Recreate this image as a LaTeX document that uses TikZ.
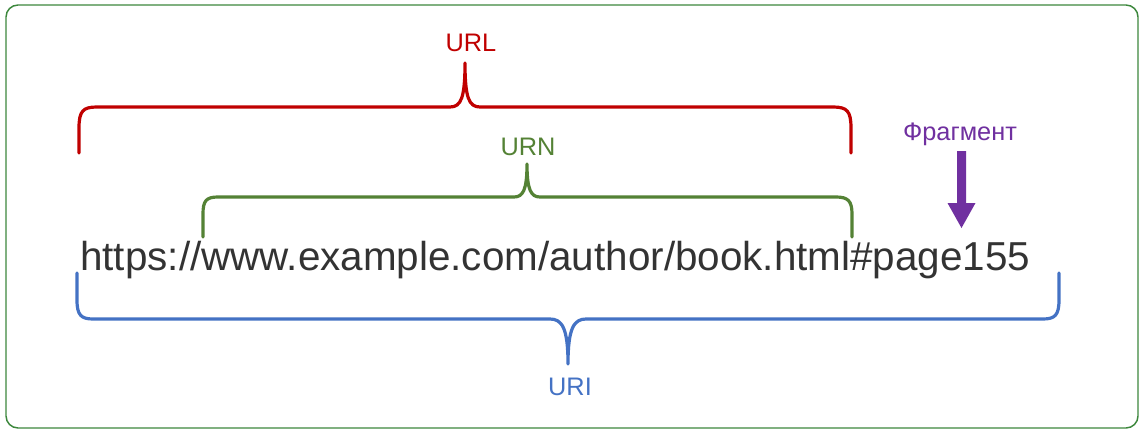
\documentclass[tikz,border=0pt]{standalone}
\usepackage{fontspec}
\setmainfont{Liberation Sans}
\definecolor{cred}{RGB}{192,0,0}
\definecolor{cgreen}{RGB}{84,130,53}
\definecolor{cblue}{RGB}{68,114,196}
\definecolor{cpurple}{RGB}{112,48,160}
\definecolor{cframe}{RGB}{60,135,60}
\definecolor{ctext}{RGB}{51,51,51}
\begin{document}
\begin{tikzpicture}[x=0.75pt,y=-0.75pt,
  bracepath/.style={line width=2.4pt,line cap=round,line join=round},
  lbl/.style={font=\fontsize{19}{21}\selectfont,inner sep=0pt,anchor=base},
  urltext/.style={font=\fontsize{30.3}{34}\selectfont,text=ctext,inner sep=0pt,anchor=base west}]
\useasboundingbox (0,0) rectangle (1143,435);
\draw[cframe,line width=1.1pt,rounded corners=9pt,fill=white] (6,5) rectangle (1138,428);

\node[urltext] (url) at (80,270) {https://www.example.com/author/book.html\#page155};

% red brace (URL)
\draw[cred,bracepath] (79,153) -- (79,128) .. controls (79,111) and (83,107) .. (97,107)
  -- (450,107) .. controls (461,107) and (465,98) .. (465,63)
  .. controls (465,98) and (469,107) .. (480,107)
  -- (833,107) .. controls (847,107) and (851,111) .. (851,128) -- (851,153);
\node[lbl,text=cred] (lurl) at (471,52) {URL};

% green brace (URN)
\draw[cgreen,bracepath] (203,237) -- (203,214) .. controls (203,201) and (206,197) .. (218,197)
  -- (514,197) .. controls (523,197) and (527,190) .. (527,164)
  .. controls (527,190) and (531,197) .. (540,197)
  -- (836,197) .. controls (848,197) and (852,201) .. (852,214) -- (852,237);
\node[lbl,text=cgreen] (lurn) at (528,156) {URN};

% blue brace (URI)
\draw[cblue,bracepath] (77,273) -- (77,300) .. controls (77,315) and (81,319) .. (93,319)
  -- (550,319) .. controls (562,319) and (568,328) .. (568,364)
  .. controls (568,328) and (574,319) .. (586,319)
  -- (1043,319) .. controls (1055,319) and (1059,315) .. (1059,300) -- (1059,273);
\node[lbl,text=cblue] (luri) at (570,395) {URI};

% fragment arrow
\node[lbl,text=cpurple] (lfrag) at (960,141) {Фрагмент};
\coordinate (atip) at (961.5,228);
\fill[cpurple] (957,151) -- (966,151) -- (966,203) -- (975.5,203) -- (atip) -- (947.5,203) -- (957,203) -- cycle;
\end{tikzpicture}
\end{document}
